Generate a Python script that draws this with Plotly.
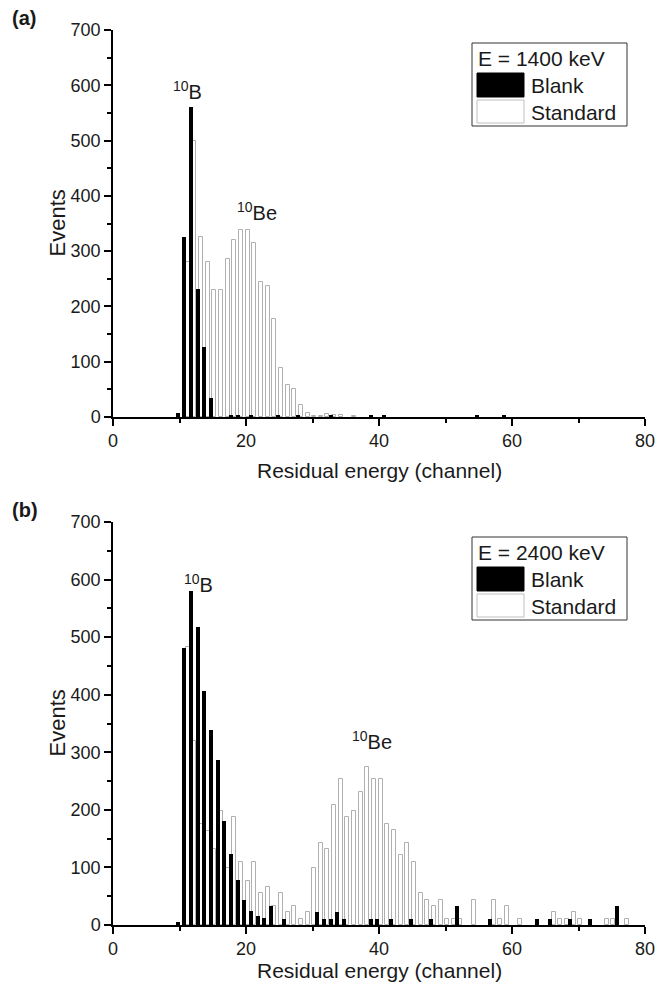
import plotly.graph_objects as go

# ---- data ----
# panel (a), E = 1400 keV
blank_a_ch = [10, 11, 12, 13, 14, 15, 18, 19, 21, 25, 28, 33, 39, 41, 55, 59]
blank_a = [7, 326, 560, 231, 126, 35, 4, 4, 4, 4, 4, 4, 4, 4, 4, 4]
std_a_ch = [11, 12, 13, 14, 15, 16, 17, 18, 19, 20, 21, 22, 23, 24, 25, 26, 27,
            28, 29, 30, 31, 32, 33, 34, 36]
std_a = [280, 500, 325, 281, 229, 229, 285, 321, 339, 338, 315, 245, 237, 178,
         88, 58, 51, 22, 8, 2, 2, 5, 4, 3, 2]

# panel (b), E = 2400 keV
blank_b_ch = [10, 11, 12, 13, 14, 15, 16, 17, 18, 19, 20, 21, 22, 23, 24, 26,
              31, 32, 33, 34, 35, 39, 40, 42, 45, 48, 52, 57, 64, 66, 69, 72, 76]
blank_b = [6, 481, 581, 517, 406, 339, 286, 181, 123, 79, 44, 24, 16, 13, 33, 11,
           22, 11, 11, 22, 11, 11, 11, 11, 11, 11, 33, 11, 11, 11, 11, 11, 33]
std_b_ch = [11, 12, 13, 14, 15, 16, 17, 18, 19, 20, 21, 22, 23, 24, 25, 26, 27,
            28, 29, 30, 31, 32, 33, 34, 35, 36, 37, 38, 39, 40, 41, 42, 43, 44,
            45, 46, 47, 48, 49, 50, 51, 52, 54, 57, 58, 59, 61, 66, 67, 68, 69,
            70, 74, 75, 77]
std_b = [483, 319, 176, 164, 132, 198, 99, 187, 110, 77, 110, 55, 66, 33, 55, 22,
         33, 11, 22, 99, 143, 132, 209, 253, 187, 198, 231, 274, 253, 253, 176,
         165, 121, 143, 110, 55, 44, 33, 44, 11, 11, 11, 44, 44, 11, 33, 11, 22,
         11, 11, 22, 11, 11, 11, 11]

energies = ["E = 1400 keV", "E = 2400 keV"]
panel_tags = ["(a)", "(b)"]

# the page body keeps its default 8px margin, so the figure sits 8px in
OFF = 8
W, H = 666 - 2 * OFF, 990 - 2 * OFF
FONT = "Liberation Sans, Arial, sans-serif"
INK = "#1a1a1a"


def px(x):
    return (x - OFF) / W


def py(y):
    return 1 - (y - OFF) / H


fig = go.Figure()

panels = [
    dict(xa="x", ya="y", std=(std_a_ch, std_a), blank=(blank_a_ch, blank_a),
         top=30, bot=417, xtitle_y=470),
    dict(xa="x2", ya="y2", std=(std_b_ch, std_b), blank=(blank_b_ch, blank_b),
         top=522, bot=925, xtitle_y=970),
]

for p in panels:
    fig.add_trace(go.Bar(x=p["std"][0], y=p["std"][1], width=0.6, offset=-0.05,
                         marker=dict(color="white", line=dict(color="#b0b0b0", width=1)),
                         xaxis=p["xa"], yaxis=p["ya"], showlegend=False))
    fig.add_trace(go.Bar(x=p["blank"][0], y=p["blank"][1], width=0.6, offset=-0.55,
                         marker=dict(color="black", line=dict(width=0)),
                         xaxis=p["xa"], yaxis=p["ya"], showlegend=False))

xdom = [px(113), px(645)]
tickfont = dict(family=FONT, size=18, color=INK)

# the default template turns automargin on, which would shrink the plot areas
common = dict(showgrid=False, zeroline=False, automargin=False,
              showline=True, linecolor="black", linewidth=1.5, tickwidth=1.5, tickcolor="black")


def main_x(anchor):
    return dict(domain=xdom, range=[0, 80], anchor=anchor,
                ticks="outside", ticklen=7, dtick=20, tick0=0, tickfont=tickfont,
                minor=dict(dtick=10, ticks="outside", ticklen=4, tickwidth=1.5, tickcolor="black"),
                **common)


def main_y(anchor, dom):
    return dict(domain=dom, range=[0, 700], anchor=anchor,
                ticks="outside", ticklen=7, dtick=100, tick0=0, tickfont=tickfont,
                minor=dict(dtick=50, ticks="outside", ticklen=4, tickwidth=1.5, tickcolor="black"),
                **common)


def mirror_x(over, anchor):
    return dict(overlaying=over, anchor=anchor, side="top", range=[0, 80],
                ticks="inside", ticklen=5, dtick=20, tick0=0, showticklabels=False,
                minor=dict(dtick=10, ticks="inside", ticklen=3, tickwidth=1.5, tickcolor="black"),
                **common)


def mirror_y(over, anchor):
    return dict(overlaying=over, anchor=anchor, side="right", range=[0, 700],
                ticks="inside", ticklen=5, dtick=100, tick0=0, showticklabels=False,
                minor=dict(dtick=50, ticks="inside", ticklen=3, tickwidth=1.5, tickcolor="black"),
                **common)


ydom_a = [py(417), py(30)]
ydom_b = [py(925), py(522)]

fig.update_layout(
    xaxis=main_x("y"), yaxis=main_y("x", ydom_a),
    xaxis2=main_x("y2"), yaxis2=main_y("x2", ydom_b),
    xaxis3=mirror_x("x", "y"), yaxis3=mirror_y("y", "x"),
    xaxis4=mirror_x("x2", "y2"), yaxis4=mirror_y("y2", "x2"),
)

shapes = []
annotations = []
label_font = dict(family=FONT, size=21, color=INK)

for i, p in enumerate(panels):
    dy = 0 if i == 0 else 494
    # axis titles
    annotations.append(dict(text="Residual energy (channel)", x=px(379), y=py(p["xtitle_y"]),
                            xref="paper", yref="paper", showarrow=False, font=label_font,
                            xanchor="center", yanchor="middle"))
    annotations.append(dict(text="Events", x=px(57), y=py((p["top"] + p["bot"]) / 2),
                            xref="paper", yref="paper", showarrow=False, textangle=-90,
                            font=dict(family=FONT, size=22, color=INK),
                            xanchor="center", yanchor="middle"))
    # panel tag
    annotations.append(dict(text="<b>" + panel_tags[i] + "</b>", x=px(10), y=py(p["top"] - 12),
                            xref="paper", yref="paper", showarrow=False,
                            font=dict(family=FONT, size=20, color=INK),
                            xanchor="left", yanchor="middle"))
    # legend box
    shapes.append(dict(type="rect", xref="paper", yref="paper",
                       x0=px(472), x1=px(627), y0=py(43 + dy), y1=py(126 + dy),
                       line=dict(color="#333333", width=1), fillcolor="white", layer="above"))
    shapes.append(dict(type="rect", xref="paper", yref="paper",
                       x0=px(477), x1=px(524), y0=py(73 + dy), y1=py(97 + dy),
                       line=dict(color="black", width=1), fillcolor="black", layer="above"))
    shapes.append(dict(type="rect", xref="paper", yref="paper",
                       x0=px(477), x1=px(524), y0=py(100 + dy), y1=py(123 + dy),
                       line=dict(color="#c0c0c0", width=1), fillcolor="white", layer="above"))
    annotations.append(dict(text=energies[i], x=px(476), y=py(58 + dy), xref="paper", yref="paper",
                            showarrow=False, font=label_font, xanchor="left", yanchor="middle"))
    annotations.append(dict(text="Blank", x=px(529), y=py(85 + dy), xref="paper", yref="paper",
                            showarrow=False, font=label_font, xanchor="left", yanchor="middle"))
    annotations.append(dict(text="Standard", x=px(529), y=py(112 + dy), xref="paper", yref="paper",
                            showarrow=False, font=label_font, xanchor="left", yanchor="middle"))

# peak labels (data coordinates)
peak_font = dict(family=FONT, size=20, color=INK)
annotations += [
    dict(text="<sup>10</sup>B", x=11.2, y=591, xref="x", yref="y", showarrow=False, font=peak_font),
    dict(text="<sup>10</sup>Be", x=21.6, y=371, xref="x", yref="y", showarrow=False, font=peak_font),
    dict(text="<sup>10</sup>B", x=12.8, y=594, xref="x2", yref="y2", showarrow=False, font=peak_font),
    dict(text="<sup>10</sup>Be", x=39.0, y=321, xref="x2", yref="y2", showarrow=False, font=peak_font),
]

fig.update_layout(
    width=W, height=H, autosize=False,
    margin=dict(l=0, r=0, t=0, b=0),
    paper_bgcolor="white", plot_bgcolor="white",
    barmode="overlay", bargap=0,
    font=dict(family=FONT, color=INK),
    shapes=shapes, annotations=annotations,
    showlegend=False,
)

fig.write_html("out.html")
